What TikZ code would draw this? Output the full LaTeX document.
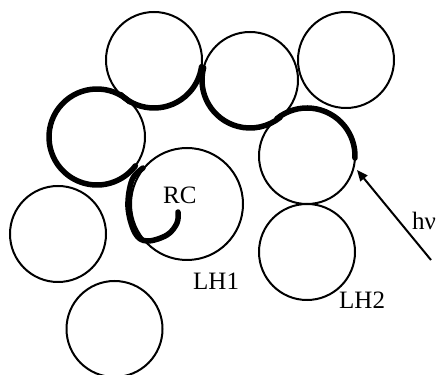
\documentclass[tikz,border=0pt]{standalone}
\usepackage{fontspec}
\setmainfont{Liberation Serif}
\usetikzlibrary{arrows.meta}
\tikzset{
  ring/.style={draw, circle, line width=2pt, inner sep=0pt, outer sep=0pt, minimum size=96pt},
  bigring/.style={ring, minimum size=112pt},
  thickarc/.style={line width=5.5pt, line cap=round},
  lbl/.style={inner sep=0pt, anchor=base west, font=\fontsize{25}{30}\selectfont},
  photon/.style={line width=2pt, -{Triangle[length=11pt,width=9pt]}}
}
\begin{document}
\begin{tikzpicture}[x=1pt,y=1pt]
\useasboundingbox (0,0) rectangle (438,374);
% circles
\node[ring] (A) at (154,314) {};
\node[ring] (B) at (250,294) {};
\node[ring] (C) at (346,314) {};
\node[ring] (D) at (97,237) {};
\node[bigring] (E) at (187,170) {};
\node[ring] (F) at (307,218) {};
\node[ring] (G) at (307,122) {};
\node[ring] (H) at (58,140) {};
\node[ring] (I) at (114.5,45) {};
% thick arcs
\draw[thickarc] ([shift={(-134:48pt)}]A.center) arc[start angle=-134, end angle=-8, radius=48pt];
\draw[thickarc] ([shift={(47:48pt)}]D.center) arc[start angle=47, end angle=323, radius=48pt];
\draw[thickarc] ([shift={(165:48pt)}]B.center) arc[start angle=165, end angle=309, radius=48pt];
\draw[thickarc] ([shift={(129:48pt)}]F.center) arc[start angle=129, end angle=-2.5, radius=48pt];
\draw[thickarc] plot[smooth, tension=0.6] coordinates {(143,206) (132,194) (128,167) (135,141) (147,133) (167,139) (177,151) (178,162)};
% labels
\node[lbl] (rc) at (163,170) {RC};
\node[lbl] (lh1) at (193,84) {LH1};
\node[lbl] (lh2) at (339,65) {LH2};
\node[lbl] (hv) at (412,144) {hν};
% photon arrow
\coordinate (hvtail) at (431,114);
\coordinate (hvtip) at (357,204);
\draw[photon] (hvtail) -- (hvtip);
\end{tikzpicture}
\end{document}
